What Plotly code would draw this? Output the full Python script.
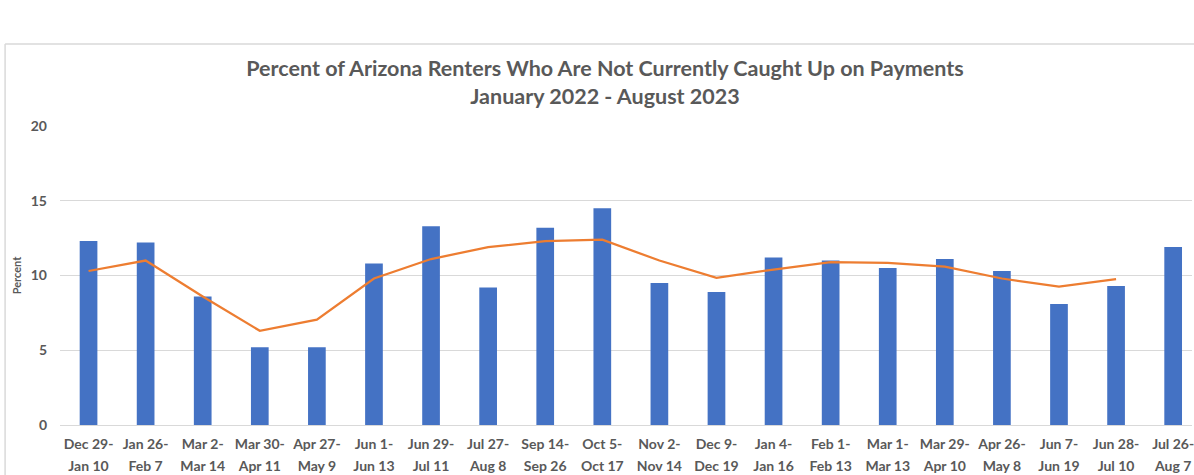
import plotly.graph_objects as go

label_top = ["Dec 29-", "Jan 26-", "Mar 2-", "Mar 30-", "Apr 27-", "Jun 1-", "Jun 29-",
             "Jul 27-", "Sep 14-", "Oct 5-", "Nov 2-", "Dec 9-", "Jan 4-", "Feb 1-",
             "Mar 1-", "Mar 29-", "Apr 26-", "Jun 7-", "Jun 28-", "Jul 26-"]
label_bottom = ["Jan 10", "Feb 7", "Mar 14", "Apr 11", "May 9", "Jun 13", "Jul 11",
                "Aug 8", "Sep 26", "Oct 17", "Nov 14", "Dec 19", "Jan 16", "Feb 13",
                "Mar 13", "Apr 10", "May 8", "Jun 19", "Jul 10", "Aug 7"]
percent_values = [12.3, 12.2, 8.6, 5.2, 5.2, 10.8, 13.3, 9.2, 13.2, 14.5,
                  9.5, 8.9, 11.2, 11.0, 10.5, 11.1, 10.3, 8.1, 9.3, 11.9]
trend_values = [10.3, 11.0, 8.6, 6.3, 7.05, 9.8, 11.1, 11.9, 12.3, 12.4,
                11.0, 9.85, 10.4, 10.9, 10.85, 10.6, 9.8, 9.25, 9.75, None]
y_ticks = [0, 5, 10, 15, 20]

txt = "#595959"
fnt = "Lato, 'Open Sans', sans-serif"
xs = list(range(len(label_top)))

fig = go.Figure()
fig.add_trace(go.Bar(x=xs, y=percent_values,
                     marker=dict(color="#4472C4", line=dict(width=0)),
                     showlegend=False))
fig.add_trace(go.Scatter(x=xs, y=trend_values, mode="lines",
                         line=dict(color="#ED7D31", width=2.25), connectgaps=False,
                         showlegend=False))
# invisible trace to anchor second label row
fig.add_trace(go.Scatter(x=xs, y=[None]*len(xs), xaxis="x2", showlegend=False,
                         hoverinfo="skip"))

W, H = 1194, 475
L, T, B = 60, 126, 50
PW, PH = W - L, H - T - B

fig.update_layout(
    width=W, height=H,
    margin=dict(l=L, r=0, t=T, b=B),
    paper_bgcolor="white", plot_bgcolor="white",
    bargap=0.69,
    font=dict(family=fnt, color=txt),
    title=dict(text="<b>Percent of Arizona Renters Who Are Not Currently Caught Up on Payments<br>January 2022 - August 2023</b>",
               x=605/W, xanchor="center", xref="container",
               y=1-76/H, yanchor="top", yref="container",
               font=dict(size=21.5, color=txt, family=fnt)),
    xaxis=dict(tickmode="array", tickvals=xs, ticktext=[f"<b>{t}</b>" for t in label_top],
               range=[-0.5, 19.33], showgrid=False, zeroline=False, showline=False,
               tickfont=dict(size=14, color=txt, family=fnt), tickangle=0,
               ticklabelstandoff=9, ticklabeloverflow="allow"),
    xaxis2=dict(tickmode="array", tickvals=xs, ticktext=[f"<b>{t}</b>" for t in label_bottom],
                range=[-0.5, 19.33], overlaying="x", side="bottom", anchor="y",
                showgrid=False, zeroline=False, showline=False,
                tickfont=dict(size=14, color=txt, family=fnt), tickangle=0,
                ticklabelstandoff=31, ticklabeloverflow="allow"),
    yaxis=dict(range=[0, 20], tickvals=y_ticks, ticktext=[f"<b>{v}</b>" for v in y_ticks],
               showgrid=True, gridcolor="#D9D9D9",
               gridwidth=1, zeroline=True, zerolinecolor="#D9D9D9", zerolinewidth=1,
               tickfont=dict(size=14, color=txt, family=fnt), ticklabelstandoff=12,
               title=dict(text="<b>Percent</b>", font=dict(size=11, color=txt, family=fnt),
                          standoff=6)),
    shapes=[
        dict(type="line", xref="paper", yref="paper", x0=(5 - L)/PW, x1=1.2,
             y0=(H - B - 44)/PH, y1=(H - B - 44)/PH, line=dict(color="#D9D9D9", width=1.5)),
        dict(type="line", xref="paper", yref="paper", x0=(5 - L)/PW, x1=(5 - L)/PW,
             y0=(H - B - 44)/PH, y1=-0.5, line=dict(color="#D9D9D9", width=1.5)),
    ],
)

fig.write_html("out.html", config={"displayModeBar": False},
               post_script="document.body.style.margin='0';document.body.style.overflow='hidden';")
